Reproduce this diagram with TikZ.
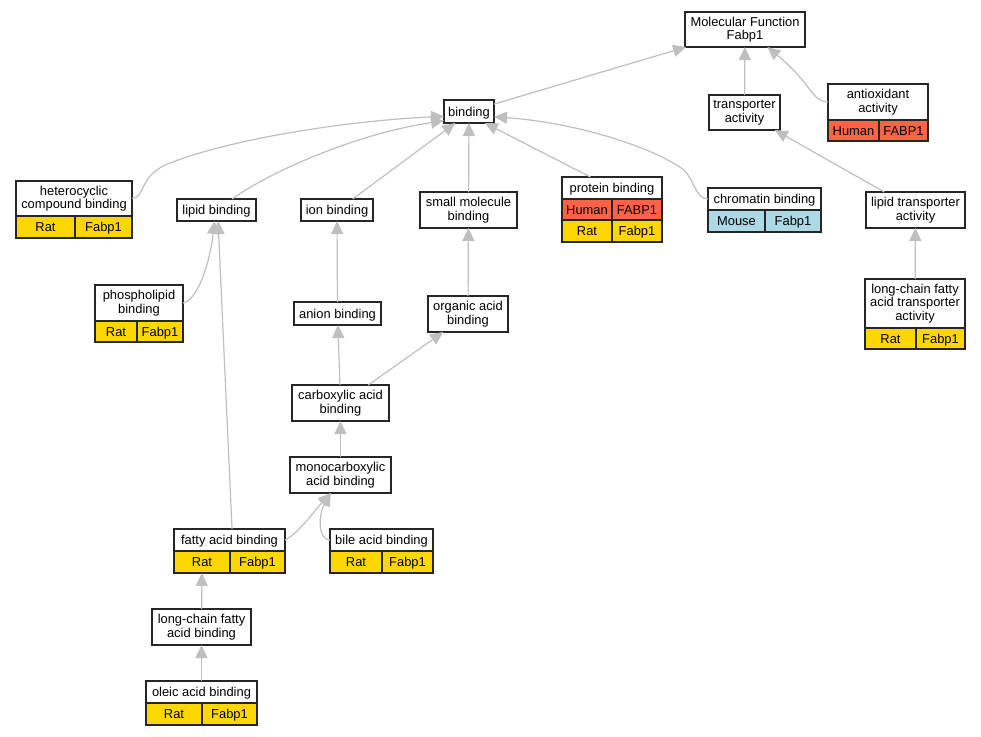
\documentclass[tikz,border=0pt]{standalone}
\usepackage{fontspec}
\setmainfont{Liberation Sans}
\usetikzlibrary{arrows.meta}
\definecolor{ratgold}{HTML}{FFD700}
\definecolor{humanred}{HTML}{FF6347}
\definecolor{mouseblue}{HTML}{ADD8E6}
\begin{document}
\begin{tikzpicture}[x=1pt,y=-1pt,
        term/.style={draw=black!85, line width=1.2pt, fill=white, inner sep=0pt, outer sep=0pt, align=center,
                font=\fontsize{12.9}{13.6}\selectfont},
        oneline/.style={term, text height=11.4pt, text depth=2.4pt},
        cell/.style={oneline, anchor=north west},
        edge/.style={draw=black!25, line width=1.2pt, -{Triangle[length=13pt,width=12pt]}}]
        \useasboundingbox (0,0) rectangle (981,736);
        \node[term, minimum width=120pt, minimum height=35pt] (mf) at (745,29.5) {Molecular Function\\Fabp1};
        \node[term, minimum width=71pt, minimum height=35pt] (trans) at (744.5,112.5) {transporter\\activity};
        \node[term, minimum width=100pt, minimum height=36pt] (antiox) at (878,102) {antioxidant\\activity};
        \node[cell, fill=humanred, minimum width=51pt, minimum height=21pt] (antioxS) at (antiox.south west) {Human};
        \node[cell, fill=humanred, minimum width=49pt, minimum height=21pt] (antioxG) at (antioxS.north east) {FABP1};
        \node[oneline, minimum width=50pt, minimum height=23pt] (bind) at (469,111.5) {binding};
        \node[term, minimum width=116pt, minimum height=35pt] (het) at (74,198.5) {heterocyclic\\compound binding};
        \node[cell, fill=ratgold, minimum width=59pt, minimum height=22pt] (hetS) at (het.south west) {Rat};
        \node[cell, fill=ratgold, minimum width=57pt, minimum height=22pt] (hetG) at (hetS.north east) {Fabp1};
        \node[oneline, minimum width=79pt, minimum height=22pt] (lipid) at (216.5,210) {lipid binding};
        \node[oneline, minimum width=72pt, minimum height=22pt] (ion) at (337,210) {ion binding};
        \node[term, minimum width=97pt, minimum height=36pt] (smol) at (468.5,210) {small molecule\\binding};
        \node[oneline, minimum width=100pt, minimum height=22pt] (prot) at (612,188) {protein binding};
        \node[cell, fill=humanred, minimum width=50pt, minimum height=21pt] (protS) at (prot.south west) {Human};
        \node[cell, fill=humanred, minimum width=50pt, minimum height=21pt] (protG) at (protS.north east) {FABP1};
        \node[cell, fill=ratgold, minimum width=50pt, minimum height=22pt] (protRS) at (protS.south west) {Rat};
        \node[cell, fill=ratgold, minimum width=50pt, minimum height=22pt] (protRG) at (protRS.north east) {Fabp1};
        \node[oneline, minimum width=113pt, minimum height=22pt] (chrom) at (764.5,199) {chromatin binding};
        \node[cell, fill=mouseblue, minimum width=57pt, minimum height=22pt] (chromS) at (chrom.south west) {Mouse};
        \node[cell, fill=mouseblue, minimum width=56pt, minimum height=22pt] (chromG) at (chromS.north east) {Fabp1};
        \node[term, minimum width=99pt, minimum height=36pt] (ltrans) at (915.5,210) {lipid transporter\\activity};
        \node[term, minimum width=100pt, minimum height=49pt] (lcftrans) at (915,303.5) {long-chain fatty\\acid transporter\\activity};
        \node[cell, fill=ratgold, minimum width=51pt, minimum height=21pt] (lcftransS) at (lcftrans.south west) {Rat};
        \node[cell, fill=ratgold, minimum width=49pt, minimum height=21pt] (lcftransG) at (lcftransS.north east) {Fabp1};
        \node[term, minimum width=88pt, minimum height=36pt] (phos) at (139,303) {phospholipid\\binding};
        \node[cell, fill=ratgold, minimum width=42pt, minimum height=21pt] (phosS) at (phos.south west) {Rat};
        \node[cell, fill=ratgold, minimum width=46pt, minimum height=21pt] (phosG) at (phosS.north east) {Fabp1};
        \node[oneline, minimum width=87pt, minimum height=23pt] (anion) at (337.5,313.5) {anion binding};
        \node[term, minimum width=80pt, minimum height=36pt] (orgac) at (468,314) {organic acid\\binding};
        \node[term, minimum width=97pt, minimum height=36pt] (carb) at (340.5,403) {carboxylic acid\\binding};
        \node[term, minimum width=101pt, minimum height=36pt] (mono) at (340.5,475) {monocarboxylic\\acid binding};
        \node[oneline, minimum width=111pt, minimum height=22pt] (fatty) at (229.5,540) {fatty acid binding};
        \node[cell, fill=ratgold, minimum width=56pt, minimum height=22pt] (fattyS) at (fatty.south west) {Rat};
        \node[cell, fill=ratgold, minimum width=55pt, minimum height=22pt] (fattyG) at (fattyS.north east) {Fabp1};
        \node[oneline, minimum width=103pt, minimum height=22pt] (bile) at (381.5,540) {bile acid binding};
        \node[cell, fill=ratgold, minimum width=52pt, minimum height=22pt] (bileS) at (bile.south west) {Rat};
        \node[cell, fill=ratgold, minimum width=51pt, minimum height=22pt] (bileG) at (bileS.north east) {Fabp1};
        \node[term, minimum width=99pt, minimum height=36pt] (lcfab) at (201.5,627) {long-chain fatty\\acid binding};
        \node[oneline, minimum width=111pt, minimum height=22pt] (oleic) at (201.5,692) {oleic acid binding};
        \node[cell, fill=ratgold, minimum width=56pt, minimum height=22pt] (oleicS) at (oleic.south west) {Rat};
        \node[cell, fill=ratgold, minimum width=55pt, minimum height=22pt] (oleicG) at (oleicS.north east) {Fabp1};
        \draw[edge] (bind) -- (mf);
        \draw[edge] (trans) -- (mf);
        \draw[edge] (antiox.west) .. controls (812,102) and (812,84) .. (mf.-38);
        \draw[edge] (het.east) .. controls (146,198) and (138,175) .. (170,163) .. controls (240,136) and (360,120) .. (bind.191);
        \draw[edge] (lipid.35) .. controls (265,175) and (350,135) .. (bind.200);
        \draw[edge] (ion.35) -- (bind.220);
        \draw[edge] (smol) -- (bind);
        \draw[edge] (prot.153) -- (bind.-36);
        \draw[edge] (chrom.west) .. controls (696,199) and (694,180) .. (684,170) .. controls (650,145) and (570,122) .. (bind.-12);
        \draw[edge] (ltrans.150) -- (trans.-30);
        \draw[edge] (lcftrans) -- (ltrans);
        \draw[edge] (phos.east) .. controls (198,300) and (210,262) .. (lipid.-100);
        \draw[edge] (fatty.77) -- (lipid.-82);
        \draw[edge] (anion) -- (ion);
        \draw[edge] (orgac) -- (smol);
        \draw[edge] (carb) -- (anion);
        \draw[edge] (carb.33) -- (orgac.-144);
        \draw[edge] (mono) -- (carb);
        \draw[edge] (fatty.east) .. controls (300,532) and (315,510) .. (mono.-118);
        \draw[edge] (bile.west) .. controls (318,540) and (318,515) .. (mono.-118);
        \draw[edge] (lcfab) -- (fattyS);
        \draw[edge] (oleic) -- (lcfab);
\end{tikzpicture}
\end{document}
